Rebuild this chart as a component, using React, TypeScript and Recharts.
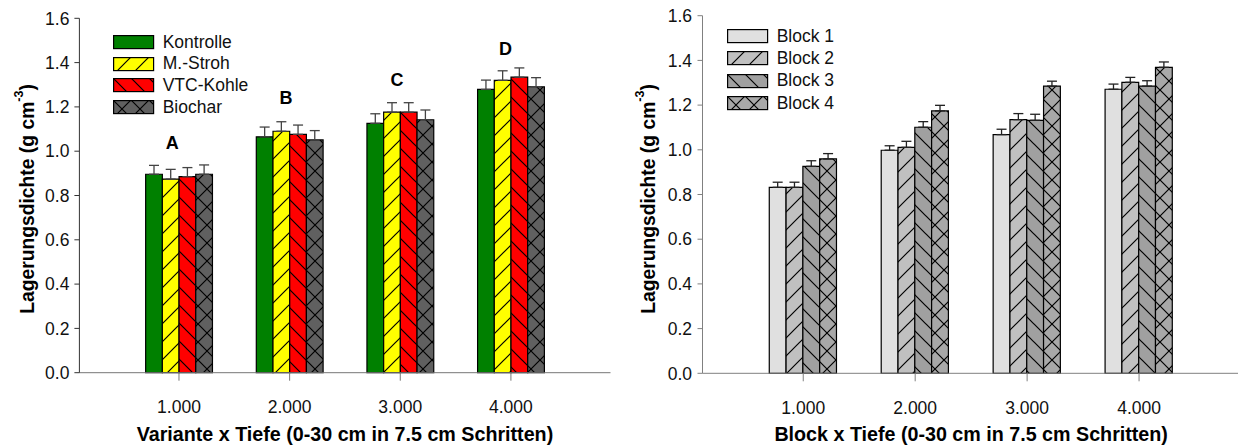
import { BarChart, Bar, XAxis, YAxis, ErrorBar, Legend, ReferenceDot } from 'recharts';

const FONT = 'Arial, "Liberation Sans", sans-serif';

// x positions (depth steps) and ticks
const depths = [1, 2, 3, 4];
const xTicks = [1, 2, 3, 4];
const yTicks = [0, 0.2, 0.4, 0.6, 0.8, 1.0, 1.2, 1.4, 1.6];

// left panel: Variante x Tiefe
const kontrolle = [0.896, 1.065, 1.126, 1.279];
const kontrolleErr = [0.04, 0.044, 0.043, 0.042];
const mStroh = [0.874, 1.09, 1.176, 1.32];
const mStrohErr = [0.044, 0.043, 0.043, 0.043];
const vtcKohle = [0.885, 1.076, 1.176, 1.334];
const vtcKohleErr = [0.041, 0.042, 0.043, 0.042];
const biochar = [0.896, 1.051, 1.142, 1.291];
const biocharErr = [0.042, 0.042, 0.044, 0.041];

const letters = ['A', 'B', 'C', 'D'];
const letterX = [0.94, 1.967, 2.97, 3.952];
const letterY = [1.039, 1.241, 1.321, 1.465];

// right panel: Block x Tiefe
const block1 = [0.832, 0.998, 1.068, 1.271];
const block1Err = [0.023, 0.02, 0.024, 0.023];
const block2 = [0.832, 1.011, 1.135, 1.302];
const block2Err = [0.023, 0.027, 0.027, 0.022];
const block3 = [0.926, 1.101, 1.132, 1.285];
const block3Err = [0.025, 0.025, 0.027, 0.024];
const block4 = [0.959, 1.174, 1.285, 1.369];
const block4Err = [0.024, 0.025, 0.022, 0.024];

const leftData = depths.map((x, i) => ({
  x,
  kontrolle: kontrolle[i],
  kontrolleErr: [0, kontrolleErr[i]],
  mStroh: mStroh[i],
  mStrohErr: [0, mStrohErr[i]],
  vtcKohle: vtcKohle[i],
  vtcKohleErr: [0, vtcKohleErr[i]],
  biochar: biochar[i],
  biocharErr: [0, biocharErr[i]],
}));

const rightData = depths.map((x, i) => ({
  x,
  block1: block1[i],
  block1Err: [0, block1Err[i]],
  block2: block2[i],
  block2Err: [0, block2Err[i]],
  block3: block3[i],
  block3Err: [0, block3Err[i]],
  block4: block4[i],
  block4Err: [0, block4Err[i]],
}));

const leftSeries = [
  { key: 'kontrolle', name: 'Kontrolle', fill: '#008000' },
  { key: 'mStroh', name: 'M.-Stroh', fill: 'url(#pStroh)' },
  { key: 'vtcKohle', name: 'VTC-Kohle', fill: 'url(#pVtc)' },
  { key: 'biochar', name: 'Biochar', fill: 'url(#pBio)' },
];

const rightSeries = [
  { key: 'block1', name: 'Block 1', fill: '#e0e0e0' },
  { key: 'block2', name: 'Block 2', fill: 'url(#pB2)' },
  { key: 'block3', name: 'Block 3', fill: 'url(#pB3)' },
  { key: 'block4', name: 'Block 4', fill: 'url(#pB4)' },
];

const P = 18;
const fwd = `M0,${P} L${P},0 M-3,3 L3,-3 M${P - 3},${P + 3} L${P + 3},${P - 3}`;
const back = `M0,0 L${P},${P} M-3,${P - 3} L3,${P + 3} M${P - 3},-3 L${P + 3},3`;

function Hatch({ id, bg, d }: { id: string; bg: string; d: string }) {
  return (
    <pattern id={id} patternUnits="userSpaceOnUse" width={P} height={P}>
      <rect width={P} height={P} fill={bg} />
      <path d={d} stroke="#000" strokeWidth={1.2} fill="none" />
    </pattern>
  );
}

function SwatchLegend({ items, rowH }: { items: { name: string; fill: string }[]; rowH: number }) {
  return (
    <div style={{ fontFamily: FONT, fontSize: 17.5, color: '#111' }}>
      {items.map((it) => (
        <div key={it.name} style={{ display: 'flex', alignItems: 'center', height: rowH }}>
          <svg width={42} height={15} style={{ display: 'block' }}>
            <rect x={0.6} y={0.6} width={40} height={13} fill={it.fill} stroke="#000" strokeWidth={1.2} />
          </svg>
          <span style={{ marginLeft: 8, lineHeight: 1, whiteSpace: 'nowrap' }}>{it.name}</span>
        </div>
      ))}
    </div>
  );
}

function YTitle({ cx, cy }: { cx: number; cy: number }) {
  return (
    <text
      x={cx}
      y={cy}
      transform={`rotate(-90 ${cx} ${cy})`}
      textAnchor="middle"
      dominantBaseline="central"
      fontFamily={FONT}
      fontWeight="bold"
      fontSize={19.3}
      fill="#000"
    >
      Lagerungsdichte (g cm
      <tspan fontSize={12.5} dy={-8}>-3</tspan>
      <tspan dy={8}>)</tspan>
    </text>
  );
}

const tickStyle = { fontSize: 17.5, fill: '#111', fontFamily: FONT };

export default function App() {
  return (
    <div style={{ position: 'absolute', left: 0, top: 0, width: 1238, height: 446, overflow: 'hidden', background: '#fff' }}>
      <div style={{ position: 'absolute', left: 0, top: 0 }}>
        <BarChart width={625} height={446} data={leftData} margin={{ top: 18.3, right: 14.5, left: 0, bottom: 0 }} barGap={0}>
          <defs>
            <Hatch id="pStroh" bg="#ffff00" d={fwd} />
            <Hatch id="pVtc" bg="#ff0000" d={back} />
            <Hatch id="pBio" bg="#606060" d={fwd + ' ' + back} />
          </defs>
          <XAxis
            dataKey="x"
            type="number"
            domain={[0.1, 4.9]}
            ticks={xTicks}
            tickFormatter={(v: number) => v.toFixed(3)}
            height={73.3}
            tickSize={8}
            tickMargin={20}
            tick={tickStyle}
            stroke="#777"
            label={{ value: 'Variante x Tiefe (0-30 cm in 7.5 cm Schritten)', position: 'insideBottom', offset: 5, fontSize: 19.7, fontWeight: 'bold', fill: '#000', fontFamily: FONT }}
          />
          <XAxis xAxisId="top" orientation="top" type="number" domain={[0.1, 4.9]} height={0} tick={false} tickLine={false} stroke="#111" />
          <YAxis
            domain={[0, 1.6]}
            ticks={yTicks}
            tickFormatter={(v: number) => v.toFixed(1)}
            width={79.4}
            tickSize={5}
            tickMargin={5}
            tick={tickStyle}
            stroke="#333"
            label={() => <YTitle cx={27} cy={199} />}
          />
          <YAxis yAxisId="right" orientation="right" domain={[0, 1.6]} width={0} tick={false} tickLine={false} stroke="#111" />
          <Legend
            layout="vertical"
            align="center"
            verticalAlign="middle"
            wrapperStyle={{ left: 112.7, top: 31.5, width: 'auto' }}
            content={() => <SwatchLegend items={leftSeries} rowH={21.7} />}
          />
          {leftSeries.map((s) => (
            <Bar key={s.key} dataKey={s.key} name={s.name} fill={s.fill} stroke="#000" strokeWidth={1.2} barSize={16.7} isAnimationActive={false}>
              <ErrorBar dataKey={s.key + 'Err'} width={5} stroke="#444" strokeWidth={1.3} />
            </Bar>
          ))}
          {letters.map((l, i) => (
            <ReferenceDot
              key={l}
              x={letterX[i]}
              y={letterY[i]}
              r={0}
              stroke="none"
              fill="none"
              label={{ value: l, position: 'center', fontSize: 18, fontWeight: 'bold', fill: '#000', fontFamily: FONT }}
            />
          ))}
        </BarChart>
      </div>
      <div style={{ position: 'absolute', left: 620, top: 0 }}>
        <BarChart width={640} height={446} data={rightData} margin={{ top: 15.7, right: 20.2, left: 0, bottom: 0 }} barGap={0}>
          <defs>
            <Hatch id="pB2" bg="#c0c0c0" d={fwd} />
            <Hatch id="pB3" bg="#a0a0a0" d={back} />
            <Hatch id="pB4" bg="#a8a8a8" d={fwd + ' ' + back} />
          </defs>
          <XAxis
            dataKey="x"
            type="number"
            domain={[0.1, 4.9]}
            ticks={xTicks}
            tickFormatter={(v: number) => v.toFixed(3)}
            height={72.7}
            tickSize={8}
            tickMargin={20}
            tick={tickStyle}
            stroke="#808080"
            label={{ value: 'Block x Tiefe (0-30 cm in 7.5 cm Schritten)', position: 'insideBottom', offset: 5, fontSize: 19.7, fontWeight: 'bold', fill: '#000', fontFamily: FONT }}
          />
          <XAxis xAxisId="top" orientation="top" type="number" domain={[0.1, 4.9]} height={0} tick={false} tickLine={false} stroke="#808080" />
          <YAxis
            domain={[0, 1.6]}
            ticks={yTicks}
            tickFormatter={(v: number) => v.toFixed(1)}
            width={82.5}
            tickSize={5}
            tickMargin={5.5}
            tick={tickStyle}
            stroke="#808080"
            label={() => <YTitle cx={28} cy={199} />}
          />
          <Legend
            layout="vertical"
            align="center"
            verticalAlign="middle"
            wrapperStyle={{ left: 106.7, top: 25.5, width: 'auto' }}
            content={() => <SwatchLegend items={rightSeries} rowH={22.3} />}
          />
          {rightSeries.map((s) => (
            <Bar key={s.key} dataKey={s.key} name={s.name} fill={s.fill} stroke="#000" strokeWidth={1.2} barSize={16.8} isAnimationActive={false}>
              <ErrorBar dataKey={s.key + 'Err'} width={5} stroke="#222" strokeWidth={1.3} />
            </Bar>
          ))}
        </BarChart>
      </div>
    </div>
  );
}
